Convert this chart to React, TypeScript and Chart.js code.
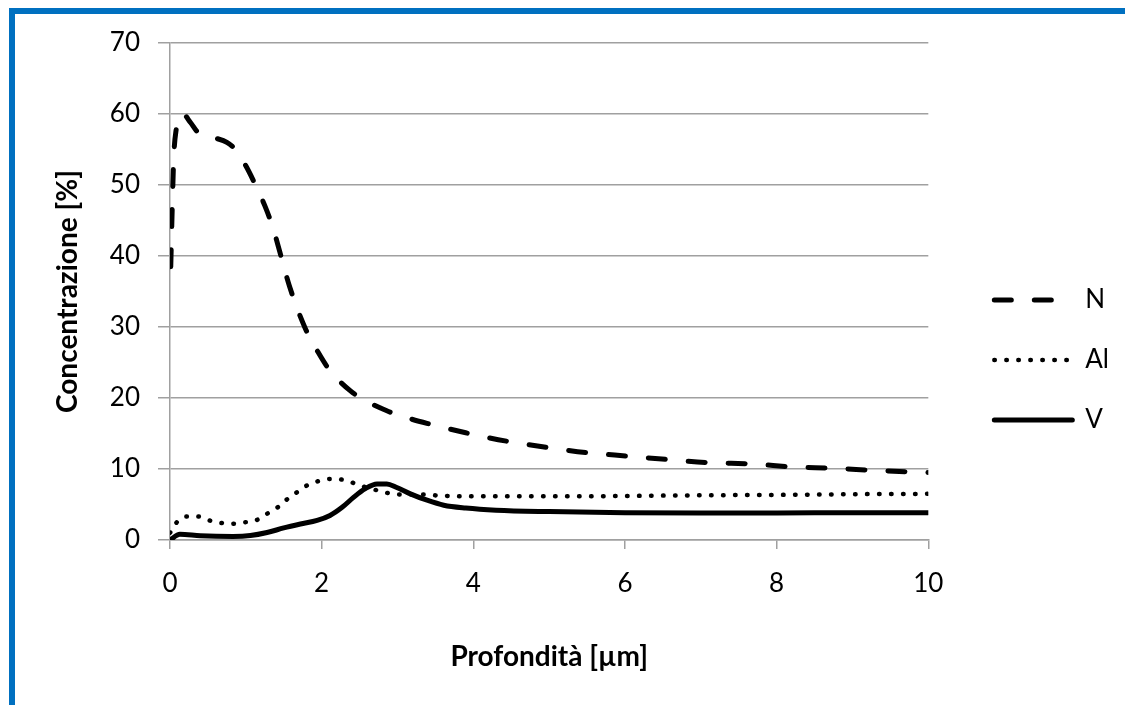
import React, { useEffect, useRef } from 'react';
import { Chart, registerables } from 'chart.js';

Chart.register(...registerables);

// ---- Data ----
const seriesNames = ['N', 'Al', 'V'];

const nDepth = [0.01, 0.03, 0.05, 0.08, 0.17, 0.27, 0.37, 0.5, 0.6, 0.75, 0.87, 1.0, 1.14, 1.25, 1.36, 1.45, 1.58, 1.78, 1.95, 2.1, 2.38, 2.6, 2.86, 3.1, 3.4, 3.9, 4.45, 5.0, 5.5, 6.05, 6.6, 7.1, 7.7, 8.2, 8.75, 9.3, 10];
const nConc = [38.5, 47, 54, 57.7, 60, 58.8, 57.4, 56.9, 56.6, 56, 54.9, 52.7, 49.7, 47.1, 43.9, 40.5, 35.6, 29.9, 26.5, 24, 21, 19.5, 18.2, 17.3, 16.4, 15.1, 13.9, 13, 12.3, 11.8, 11.3, 10.9, 10.7, 10.3, 10.1, 9.8, 9.5];

const alDepth = [0, 0.09, 0.22, 0.37, 0.52, 0.68, 0.83, 0.99, 1.14, 1.28, 1.42, 1.54, 1.67, 1.81, 1.96, 2.11, 2.27, 2.43, 2.59, 2.73, 2.88, 3.04, 3.37, 3.52, 4, 5, 6, 7, 8, 9, 10];
const alConc = [1.0, 2.5, 3.3, 3.3, 2.75, 2.4, 2.3, 2.5, 2.8, 3.7, 4.6, 5.7, 6.7, 7.7, 8.3, 8.6, 8.5, 8.0, 7.4, 7.0, 6.6, 6.4, 6.4, 6.27, 6.15, 6.15, 6.2, 6.3, 6.35, 6.45, 6.5];

const vDepth = [0, 0.13, 0.4, 0.83, 1.06, 1.28, 1.5, 1.72, 1.94, 2.11, 2.27, 2.42, 2.57, 2.73, 2.86, 2.99, 3.17, 3.39, 3.61, 3.9, 4.3, 5, 6, 7, 8, 9, 10];
const vConc = [0, 0.8, 0.6, 0.5, 0.62, 1.05, 1.7, 2.25, 2.75, 3.45, 4.6, 6.0, 7.2, 7.9, 7.9, 7.4, 6.5, 5.6, 4.9, 4.5, 4.2, 4.0, 3.85, 3.8, 3.8, 3.85, 3.85];

const xMin = 0;
const xMax = 10;
const xStep = 2;
const yMin = 0;
const yMax = 70;
const yStep = 10;

const xTitle = 'Profondità [µm]';
const yTitle = 'Concentrazione [%]';

// ---- Styles ----
const FONT = 'Lato, "Open Sans", sans-serif';
const GRID = '#a0a0a0';
const dashStyles = [[17, 23], [0.5, 11.5], []];
const widths = [5, 4.5, 5];

const toPoints = (xs: number[], ys: number[]) => xs.map((x, i) => ({ x, y: ys[i] }));

export default function App() {
  const ref = useRef<HTMLCanvasElement>(null);

  useEffect(() => {
    const seriesData = [toPoints(nDepth, nConc), toPoints(alDepth, alConc), toPoints(vDepth, vConc)];
    const chart = new Chart(ref.current as HTMLCanvasElement, {
      type: 'line',
      data: {
        datasets: seriesNames.map((name, i) => ({
          label: name,
          data: seriesData[i],
          borderColor: '#000',
          backgroundColor: '#000',
          borderWidth: widths[i],
          borderDash: dashStyles[i],
          borderCapStyle: 'round' as const,
          borderJoinStyle: 'round' as const,
          cubicInterpolationMode: 'monotone' as const,
          pointRadius: 0,
          pointHoverRadius: 0,
          fill: false,
        })),
      },
      options: {
        responsive: false,
        animation: false,
        devicePixelRatio: 1,
        events: [],
        layout: { padding: { left: 0, top: 43, right: 6, bottom: 28 } },
        font: { family: FONT },
        plugins: {
          tooltip: { enabled: false },
          legend: {
            position: 'right',
            align: 'center',
            labels: {
              usePointStyle: true,
              pointStyle: 'line',
              pointStyleWidth: 78,
              boxHeight: 26,
              padding: 34,
              color: '#000',
              font: { family: FONT, size: 26 },
              generateLabels: (c: any) =>
                Chart.defaults.plugins.legend.labels.generateLabels(c).map((item: any, i: number) => ({
                  ...item,
                  lineDash: dashStyles[i],
                  lineWidth: widths[i],
                  lineCap: 'round',
                  strokeStyle: '#000',
                  pointStyle: 'line',
                })),
            },
          },
        },
        scales: {
          x: {
            type: 'linear',
            min: xMin,
            max: xMax,
            ticks: { stepSize: xStep, color: '#000', padding: 19, font: { family: FONT, size: 26 } },
            grid: { display: true, drawOnChartArea: false, drawTicks: true, tickLength: 9, color: GRID, lineWidth: 1.5 },
            border: { display: true, color: GRID, width: 1.5 },
            title: {
              display: true,
              text: xTitle,
              color: '#000',
              font: { family: FONT, size: 28, weight: 'bold' },
              padding: { top: 0, bottom: 3 },
            },
            afterFit: (s: any) => {
              s.height = 137;
            },
          },
          y: {
            type: 'linear',
            min: yMin,
            max: yMax,
            ticks: { stepSize: yStep, color: '#000', padding: 18, font: { family: FONT, size: 26 } },
            grid: { color: GRID, lineWidth: 1.5, tickLength: 12, drawTicks: true },
            border: { display: true, color: GRID, width: 1.5 },
            title: {
              display: true,
              text: yTitle,
              color: '#000',
              font: { family: FONT, size: 28, weight: 'bold' },
              padding: { top: 51, bottom: 0 },
            },
            afterFit: (s: any) => {
              s.width = 170;
            },
          },
          y2: {
            type: 'linear',
            position: 'right',
            display: true,
            grid: { display: false, drawTicks: false },
            ticks: { display: false },
            border: { display: false },
            afterFit: (s: any) => {
              s.width = 32;
            },
          },
        },
      } as any,
    });
    return () => chart.destroy();
  }, []);

  return (
    <div style={{ position: 'fixed', left: 0, top: 0, width: 1125, height: 705, background: '#fff' }}>
      <canvas ref={ref} width={1125} height={705} style={{ display: 'block', width: 1125, height: 705 }} />
      <div
        style={{
          position: 'absolute',
          left: 9,
          top: 8,
          right: 0,
          bottom: 0,
          borderTop: '6px solid #0070C0',
          borderLeft: '6px solid #0070C0',
          pointerEvents: 'none',
        }}
      />
    </div>
  );
}
